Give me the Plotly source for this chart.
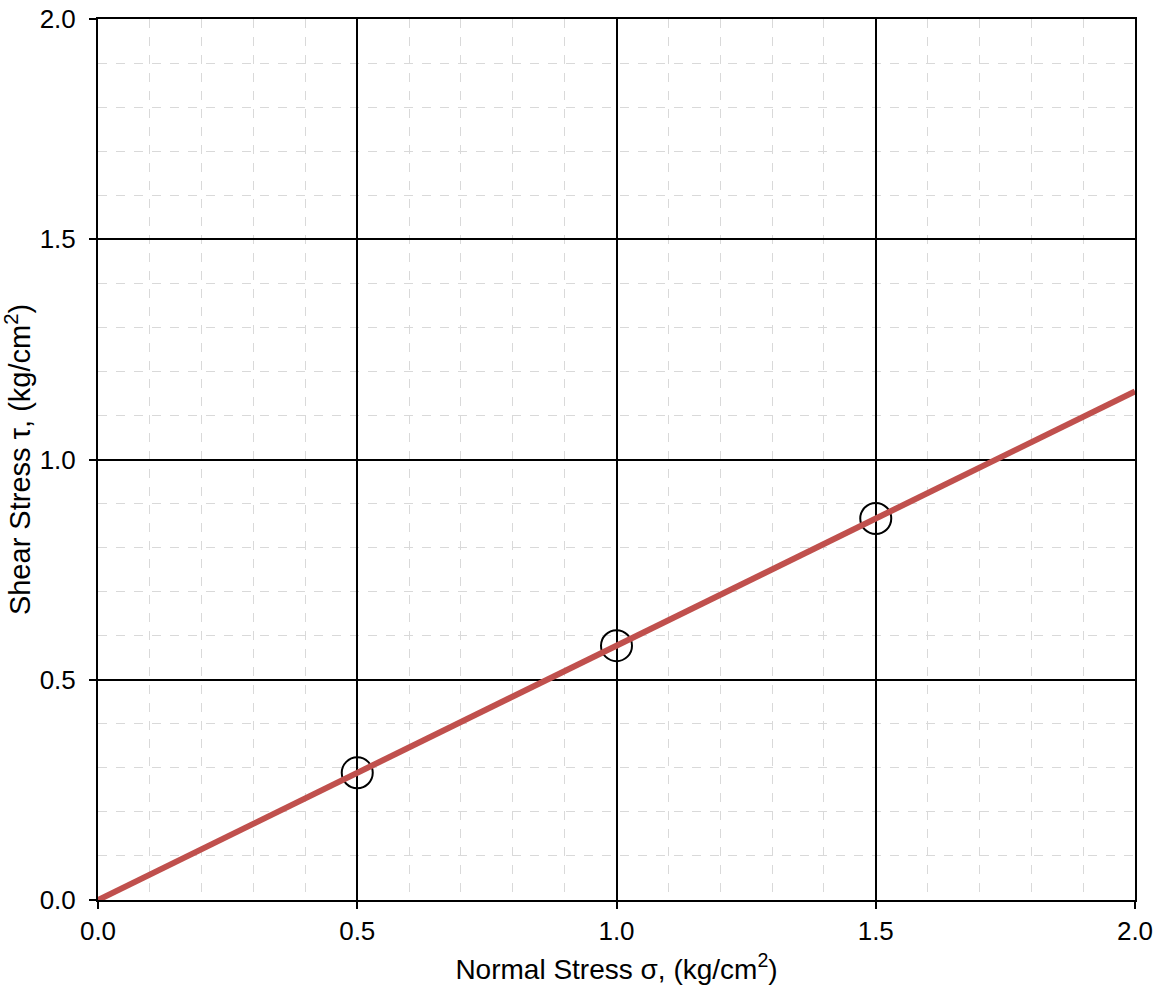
import plotly.graph_objects as go

# Data
line_x = [0.0, 2.0]
line_y = [0.0, 1.1547]
pts_x = [0.5, 1.0, 1.5]
pts_y = [0.2887, 0.5774, 0.8660]
tick_vals = [0.0, 0.5, 1.0, 1.5, 2.0]
tick_text = ["0.0", "0.5", "1.0", "1.5", "2.0"]

FONT = "Liberation Sans, Arial"

fig = go.Figure()
fig.add_trace(go.Scatter(
    x=pts_x, y=pts_y, mode="markers",
    marker=dict(symbol="circle-open", size=31, color="black", line=dict(width=2, color="black")),
    showlegend=False, hoverinfo="skip", cliponaxis=False))
fig.add_trace(go.Scatter(
    x=line_x, y=line_y, mode="lines",
    line=dict(color="#c0504d", width=6),
    showlegend=False))

axis_common = dict(
    range=[0, 2], tickvals=tick_vals, ticktext=tick_text,
    showgrid=True, gridcolor="black", gridwidth=1.5,
    showline=True, linecolor="black", linewidth=2, mirror=True,
    ticks="outside", ticklen=7, tickwidth=1.5, tickcolor="black",
    zeroline=False, automargin=False,
    tickfont=dict(family=FONT, size=26, color="black"),
    minor=dict(dtick=0.1, showgrid=True, gridcolor="#d9d9d9", griddash="dash", gridwidth=1, ticks=""),
)

fig.update_xaxes(**axis_common,
    title=dict(text="Normal Stress σ, (kg/cm<sup>2</sup>)",
               font=dict(family=FONT, size=28, color="black"), standoff=14))
fig.update_yaxes(**axis_common, ticklabelstandoff=8,
    title=dict(text="Shear Stress τ, (kg/cm<sup>2</sup>)",
               font=dict(family=FONT, size=29, color="black"), standoff=4))

fig.update_layout(
    width=1161, height=994,
    margin=dict(l=98, r=26, t=19, b=94),
    plot_bgcolor="white", paper_bgcolor="white",
)
fig.write_html("out.html")
